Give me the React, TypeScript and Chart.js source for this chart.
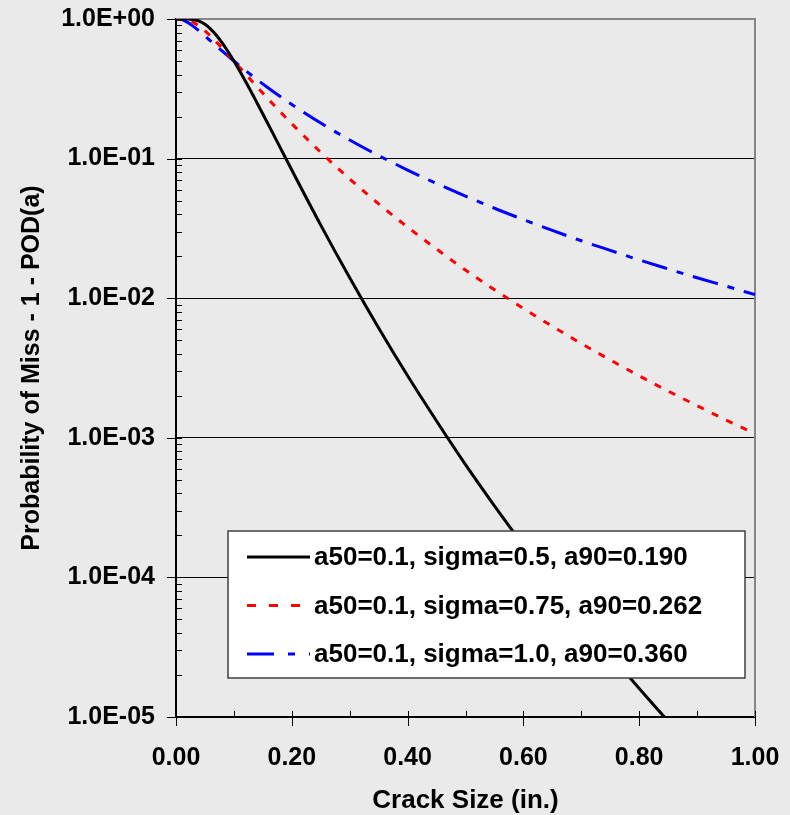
import React, { useEffect, useRef } from 'react';
import { Chart, registerables } from 'chart.js';

Chart.register(...registerables);

// ---- data ----
const crackSize = [0, 0.01, 0.02, 0.03, 0.04, 0.05, 0.06, 0.07, 0.08, 0.09, 0.1, 0.12, 0.14, 0.16, 0.18, 0.2, 0.25, 0.3, 0.35, 0.4, 0.45, 0.5, 0.55, 0.6, 0.65, 0.7, 0.75, 0.8, 0.85, 0.9, 0.95, 1.0];

const missSigma050 = [1.0, 1.0, 0.9994, 0.992, 0.967, 0.917, 0.8465, 0.762, 0.672, 0.583, 0.5, 0.358, 0.2505, 0.1736, 0.1199, 0.0828, 0.0334, 0.014, 0.00611, 0.00278, 0.00132, 0.000643, 0.000326, 0.00017, 0.0000907, 0.0000498, 0.0000279, 0.000016, 0.00000934, 0.00000556, 0.00000336, 0.00000206];

const missSigma075 = [1.0, 0.9989, 0.984, 0.946, 0.889, 0.822, 0.752, 0.683, 0.617, 0.556, 0.5, 0.404, 0.3268, 0.2654, 0.2166, 0.1777, 0.1109, 0.0715, 0.0474, 0.0323, 0.0225, 0.0159, 0.0115, 0.00845, 0.00629, 0.00474, 0.00361, 0.00278, 0.00216, 0.0017, 0.00134, 0.00107];

const missSigma100 = [1.0, 0.9894, 0.9462, 0.886, 0.82, 0.756, 0.695, 0.639, 0.588, 0.542, 0.5, 0.4277, 0.3682, 0.3192, 0.2783, 0.2441, 0.1797, 0.136, 0.1051, 0.0828, 0.0663, 0.0538, 0.0441, 0.0366, 0.0306, 0.0258, 0.022, 0.0188, 0.0162, 0.014, 0.0122, 0.0106];

const seriesLabels = [
  'a50=0.1, sigma=0.5, a90=0.190',
  'a50=0.1, sigma=0.75, a90=0.262',
  'a50=0.1, sigma=1.0, a90=0.360',
];

const yDecades = [1, 0.1, 0.01, 0.001, 0.0001, 0.00001];
const yTickLabels = ['1.0E+00', '1.0E-01', '1.0E-02', '1.0E-03', '1.0E-04', '1.0E-05'];
const xTickValues = [0, 0.2, 0.4, 0.6, 0.8, 1.0];
const xTickLabels = ['0.00', '0.20', '0.40', '0.60', '0.80', '1.00'];
const xMinorTickValues = [0.1, 0.3, 0.5, 0.7, 0.9];

const xTitle = 'Crack Size (in.)';
const yTitle = 'Probability of Miss - 1 - POD(a)';

// ---- styles ----
const BG = '#eaeaea';
const FONT = "'Liberation Sans', Arial, Helvetica, sans-serif";
const styles = [
  { color: '#000000', dash: [] as number[], legendDash: [] as number[] },
  { color: '#ff0000', dash: [7, 9], legendDash: [9, 13] },
  { color: '#0000ff', dash: [26, 10, 7, 10], legendDash: [27, 14, 7, 14] },
];
const seriesValues = [missSigma050, missSigma075, missSigma100];

function decadeIndex(v: number): number {
  for (let i = 0; i < yDecades.length; i++) {
    if (Math.abs(v - yDecades[i]) / yDecades[i] < 1e-6) return i;
  }
  return -1;
}

const bgPlugin = {
  id: 'bgFill',
  beforeDraw(chart: any) {
    const { ctx, width, height } = chart;
    ctx.save();
    ctx.fillStyle = BG;
    ctx.fillRect(0, 0, width, height);
    ctx.restore();
  },
};

const framePlugin = {
  id: 'frameTicks',
  beforeDatasetsDraw(chart: any) {
    const { ctx, chartArea } = chart;
    const { left, right, top, bottom } = chartArea;
    const xs = chart.scales.x;
    const ys = chart.scales.y;
    ctx.save();
    ctx.strokeStyle = '#868686';
    ctx.lineWidth = 2;
    ctx.beginPath();
    ctx.moveTo(left, top);
    ctx.lineTo(right, top);
    ctx.lineTo(right, bottom);
    ctx.stroke();

    ctx.strokeStyle = '#000';
    ctx.lineWidth = 1;
    for (let i = 0; i < yDecades.length; i++) {
      const d = yDecades[i];
      const py = Math.round(ys.getPixelForValue(d)) + 0.5;
      ctx.beginPath();
      ctx.moveTo(left - 9, py);
      ctx.lineTo(left + 6, py);
      ctx.stroke();
      if (i > 0) {
        for (let k = 2; k <= 9; k++) {
          const my = Math.round(ys.getPixelForValue(d * k)) + 0.5;
          ctx.beginPath();
          ctx.moveTo(left, my);
          ctx.lineTo(left + 6, my);
          ctx.stroke();
        }
      }
    }
    for (const v of xTickValues) {
      const px = Math.round(xs.getPixelForValue(v)) + 0.5;
      ctx.beginPath();
      ctx.moveTo(px, bottom - 6);
      ctx.lineTo(px, bottom + 9);
      ctx.stroke();
    }
    for (const v of xMinorTickValues) {
      const px = Math.round(xs.getPixelForValue(v)) + 0.5;
      ctx.beginPath();
      ctx.moveTo(px, bottom - 6);
      ctx.lineTo(px, bottom);
      ctx.stroke();
    }
    ctx.restore();
  },
};

const legendPlugin = {
  id: 'boxLegend',
  afterDraw(chart: any) {
    const { ctx, chartArea } = chart;
    const boxL = chartArea.left + 52;
    const boxR = chartArea.right - 10;
    const boxT = chartArea.top + 512;
    const boxH = 147;
    ctx.save();
    ctx.fillStyle = '#ffffff';
    ctx.fillRect(boxL, boxT, boxR - boxL, boxH);
    ctx.strokeStyle = '#404040';
    ctx.lineWidth = 1.5;
    ctx.strokeRect(boxL, boxT, boxR - boxL, boxH);
    ctx.font = `bold 26px ${FONT}`;
    ctx.textBaseline = 'middle';
    ctx.textAlign = 'left';
    for (let i = 0; i < seriesLabels.length; i++) {
      const ry = boxT + 26 + i * 48.5;
      ctx.strokeStyle = styles[i].color;
      ctx.lineWidth = 3;
      ctx.setLineDash(styles[i].legendDash);
      ctx.beginPath();
      ctx.moveTo(boxL + 19, ry);
      ctx.lineTo(boxL + 82, ry);
      ctx.stroke();
      ctx.setLineDash([]);
      ctx.fillStyle = '#000';
      ctx.fillText(seriesLabels[i], boxL + 86, ry + 1);
    }
    ctx.restore();
  },
};

export default function App() {
  const ref = useRef<HTMLCanvasElement>(null);

  useEffect(() => {
    const canvas = ref.current;
    if (!canvas) return;
    Chart.defaults.font.family = FONT;
    Chart.defaults.color = '#000';

    const datasets = seriesValues.map((vals, i) => ({
      label: seriesLabels[i],
      data: crackSize.map((x, j) => ({ x, y: vals[j] })),
      borderColor: styles[i].color,
      backgroundColor: styles[i].color,
      borderWidth: 3,
      borderDash: styles[i].dash,
      pointRadius: 0,
      fill: false,
      cubicInterpolationMode: 'monotone' as const,
    }));

    const chart = new Chart(canvas, {
      type: 'line',
      data: { datasets },
      options: {
        animation: false,
        responsive: false,
        maintainAspectRatio: false,
        devicePixelRatio: 1,
        layout: { padding: { top: 19, right: 35, left: 0, bottom: 0 } },
        plugins: {
          legend: { display: false },
          tooltip: { enabled: false },
        },
        scales: {
          x: {
            type: 'linear',
            min: 0,
            max: 1,
            grid: { display: false },
            border: { display: true, color: '#000', width: 2 },
            ticks: {
              stepSize: 0.2,
              autoSkip: false,
              maxRotation: 0,
              padding: 18,
              color: '#000',
              font: { size: 25, weight: 'bold' },
              callback: (v: any) => {
                const n = Number(v);
                const idx = xTickValues.findIndex((t) => Math.abs(t - n) < 1e-6);
                return idx >= 0 ? xTickLabels[idx] : '';
              },
            },
            title: {
              display: true,
              text: xTitle,
              color: '#000',
              font: { size: 26, weight: 'bold', lineHeight: 1.1 },
              padding: { top: 0, bottom: 0 },
            },
            afterFit: (s: any) => {
              s.height = 98;
              s.paddingLeft = 0;
              s.paddingRight = 0;
            },
          },
          y: {
            type: 'logarithmic',
            min: 0.00001,
            max: 1,
            grid: {
              drawTicks: false,
              lineWidth: 1,
              color: (c: any) => {
                const v = c.tick ? c.tick.value : NaN;
                const idx = decadeIndex(v);
                return idx > 0 && idx < yDecades.length - 1 ? '#000' : 'rgba(0,0,0,0)';
              },
            },
            border: { display: true, color: '#000', width: 2 },
            ticks: {
              autoSkip: false,
              padding: 21,
              color: '#000',
              font: { size: 25, weight: 'bold' },
              callback: (v: any) => {
                const idx = decadeIndex(Number(v));
                return idx >= 0 ? yTickLabels[idx] : '';
              },
            },
            title: {
              display: true,
              text: yTitle,
              color: '#000',
              font: { size: 25, weight: 'bold' },
              padding: { top: 17, bottom: 0 },
            },
            afterFit: (s: any) => {
              s.width = 176;
              s.paddingTop = 0;
              s.paddingBottom = 0;
            },
          },
        },
      },
      plugins: [bgPlugin, framePlugin, legendPlugin],
    });

    return () => chart.destroy();
  }, []);

  return (
    <div style={{ position: 'absolute', left: 0, top: 0, width: 790, height: 815, background: BG }}>
      <canvas ref={ref} width={790} height={815} style={{ display: 'block', width: 790, height: 815 }} />
    </div>
  );
}
